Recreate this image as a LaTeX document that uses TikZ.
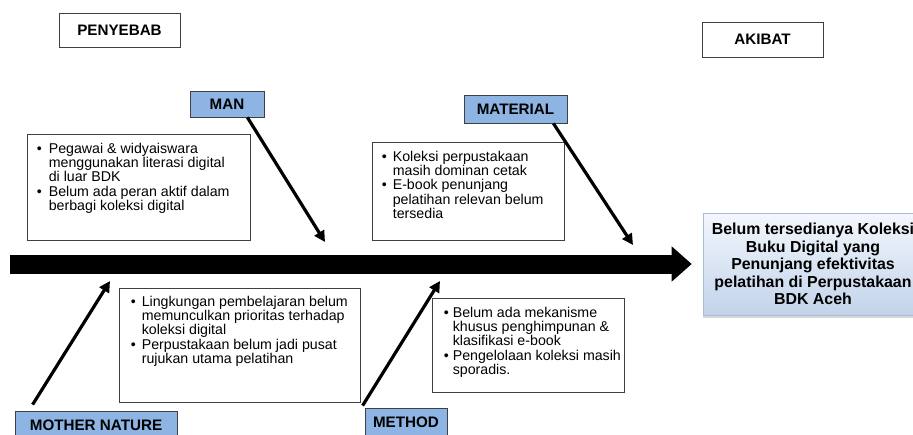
\documentclass[tikz,border=0pt]{standalone}
\usepackage{fontspec}
\setmainfont{Liberation Sans}
\usetikzlibrary{arrows.meta,shadows,calc}
\definecolor{catblue}{HTML}{8DB4E2}
\definecolor{resTop}{HTML}{F3F7FC}
\definecolor{resBot}{HTML}{C2D3EA}
\definecolor{resEdge}{HTML}{A8BCD6}
\begin{document}
\begin{tikzpicture}[x=1pt,y=-1pt,
  headbox/.style={draw=black!75, line width=0.8pt, fill=white, inner sep=0pt,
    font=\fontsize{15.2}{17}\selectfont\bfseries},
  catbox/.style={draw=black!75, line width=0.8pt, fill=catblue, inner sep=0pt,
    font=\fontsize{15.2}{17}\selectfont\bfseries},
  causeframe/.style={draw=black!75, line width=0.8pt, fill=white, inner sep=0pt},
  causetext/.style={anchor=north west, align=left, inner sep=0pt,
    font=\fontsize{14.2}{13.8}\selectfont},
  causearrow/.style={line width=3.2pt, -{Triangle[length=11pt,width=11pt]}},
  spine/.style={line width=19pt, -{Triangle[length=20pt,width=34pt]}},
  resultbox/.style={draw=resEdge, line width=0.6pt, top color=resTop, bottom color=resBot,
    inner sep=0pt, align=center, font=\fontsize{15.9}{17.5}\selectfont\bfseries,
    drop shadow={shadow xshift=0pt, shadow yshift=-3pt, fill=black!30}}
]
\useasboundingbox (0,0) rectangle (913,434);
\clip (0,0) rectangle (913,434);
\fill[white] (0,0) rectangle (913,434);

% header boxes
\node[headbox, minimum width=121pt, minimum height=34pt] (penyebab) at (119.5,30) {PENYEBAB};
\node[headbox, minimum width=121pt, minimum height=35pt] (akibat) at (762.5,39.5) {AKIBAT};

% result box
\node[resultbox, minimum width=220pt, minimum height=102pt] (result) at (813,264)
  {Belum tersedianya Koleksi\\Buku Digital yang\\Penunjang efektivitas\\pelatihan di Perpustakaan\\BDK Aceh};

% spine
\coordinate (spineStart) at (10,264);
\draw[spine] (spineStart) -- ([xshift=-11pt]result.west);

% cause text frames
\node[causeframe, minimum width=223pt, minimum height=106pt] (manframe) at (138.5,187) {};
\node[causeframe, minimum width=192pt, minimum height=98pt] (matframe) at (468,191) {};
\node[causeframe, minimum width=241pt, minimum height=114pt] (motherframe) at (239.5,345) {};
\node[causeframe, minimum width=192pt, minimum height=94pt] (methodframe) at (528,345) {};

\node[causetext] (mantext) at ($(manframe.north west)+(10,9)$) {%
\begin{tabular}{@{}l@{}l@{}}
\makebox[12pt][l]{\textbullet} & Pegawai \& widyaiswara\\
 & menggunakan literasi digital\\
 & di luar BDK\\
\makebox[12pt][l]{\textbullet} & Belum ada peran aktif dalam\\
 & berbagi koleksi digital
\end{tabular}};

\node[causetext] (mattext) at ($(matframe.north west)+(10,9)$) {%
\begin{tabular}{@{}l@{}l@{}}
\makebox[11pt][l]{\textbullet} & Koleksi perpustakaan\\
 & masih dominan cetak\\
\makebox[11pt][l]{\textbullet} & E-book penunjang\\
 & pelatihan relevan belum\\
 & tersedia
\end{tabular}};

\node[causetext] (mothertext) at ($(motherframe.north west)+(12,8)$) {%
\begin{tabular}{@{}l@{}l@{}}
\makebox[11pt][l]{\textbullet} & Lingkungan pembelajaran belum\\
 & memunculkan prioritas terhadap\\
 & koleksi digital\\
\makebox[11pt][l]{\textbullet} & Perpustakaan belum jadi pusat\\
 & rujukan utama pelatihan
\end{tabular}};

\node[causetext] (methodtext) at ($(methodframe.north west)+(12,9)$) {%
\begin{tabular}{@{}l@{}l@{}}
\makebox[9pt][l]{\textbullet} & Belum ada mekanisme\\
 & khusus penghimpunan \&\\
 & klasifikasi e-book\\
\makebox[9pt][l]{\textbullet} & Pengelolaan koleksi masih\\
 & sporadis.
\end{tabular}};

% category boxes
\node[catbox, minimum width=74pt, minimum height=26pt] (man) at (227,104) {MAN};
\node[catbox, minimum width=103pt, minimum height=28pt] (material) at (515.5,109) {MATERIAL};
\node[catbox, minimum width=162pt, minimum height=28pt] (mother) at (96,425) {MOTHER NATURE};
\node[catbox, minimum width=82pt, minimum height=28pt] (method) at (406,422) {METHOD};

% arrow tips near spine
\coordinate (manTip) at (325,242);
\coordinate (matTip) at (633,245);
\coordinate (motherTip) at (110,281);
\coordinate (methodTip) at (440,281);

\draw[causearrow] ([xshift=-17pt]man.south east) -- (manTip);
\draw[causearrow] ([xshift=-14pt]material.south east) -- (matTip);
\draw[causearrow] ($(mother.north west)+(18,-6)$) -- (motherTip);
\draw[causearrow] ($(method.north west)+(-2,-2)$) -- (methodTip);
\end{tikzpicture}
\end{document}
